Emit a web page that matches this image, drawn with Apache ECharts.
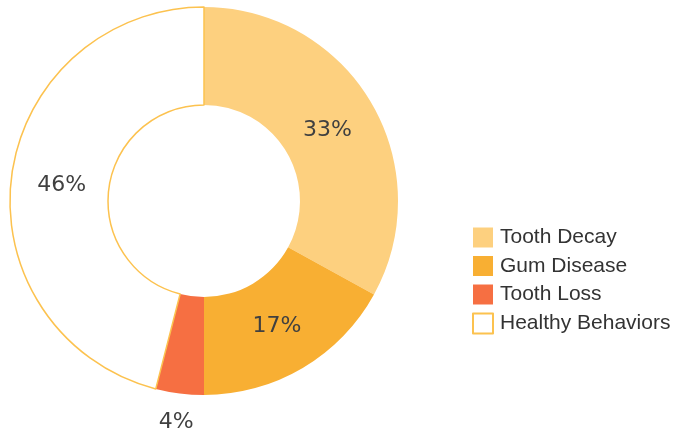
<!DOCTYPE html>
<html>
<head>
<meta charset="utf-8">
<script src="https://cdn.jsdelivr.net/npm/echarts@6/dist/echarts.min.js"></script>
<style>
  html, body { margin: 0; padding: 0; background: #fff; }
  #chart { width: 675px; height: 433px; }
</style>
</head>
<body>
<div id="chart"></div>
<script>
// Oral health breakdown (percent)
const categories = ['Tooth Decay', 'Gum Disease', 'Tooth Loss', 'Healthy Behaviors'];
const values = [33, 17, 4, 46];
const fills = ['#FDD07F', '#F8AF33', '#F66F42', '#FFFFFF'];

const ringData = categories.map((name, i) => {
  const item = { name: name, value: values[i], itemStyle: { color: fills[i] } };
  if (name === 'Healthy Behaviors') {
    item.itemStyle.borderColor = '#FCC24F';
    item.itemStyle.borderWidth = 1.5;
  }
  return item;
});

// transparent twin ring that only carries the percentage labels
const labelData = categories.map((name, i) => {
  const item = { name: name, value: values[i] };
  if (name === 'Tooth Loss') {
    item.label = { position: 'outside', distanceToLabelLine: 0 };
    item.labelLine = { show: false, length: 27, length2: 0 };
  }
  return item;
});

const chart = echarts.init(document.getElementById('chart'), null, { renderer: 'canvas' });
chart.setOption({
  animation: false,
  legend: {
    orient: 'vertical',
    left: 467,
    top: 222,
    icon: 'rect',
    itemWidth: 20,
    itemHeight: 20,
    itemGap: 7.5,
    textStyle: { fontFamily: 'Liberation Sans', fontSize: 21, color: '#333', padding: [0, 0, 0, 2] },
    data: categories
  },
  series: [{
    type: 'pie',
    center: [204, 201],
    radius: [96, 194],
    startAngle: 90,
    clockwise: true,
    label: { show: false },
    labelLine: { show: false },
    data: ringData
  }, {
    type: 'pie',
    center: [204, 201],
    radius: [87, 194],
    startAngle: 90,
    clockwise: true,
    silent: true,
    avoidLabelOverlap: false,
    itemStyle: { color: 'rgba(0,0,0,0)' },
    label: {
      show: true,
      position: 'inside',
      formatter: '{c}%',
      fontFamily: 'DejaVu Sans',
      fontSize: 22,
      color: '#404040'
    },
    labelLine: { show: false },
    labelLayout: { align: 'center', dy: 2 },
    data: labelData
  }]
});
</script>
</body>
</html>
